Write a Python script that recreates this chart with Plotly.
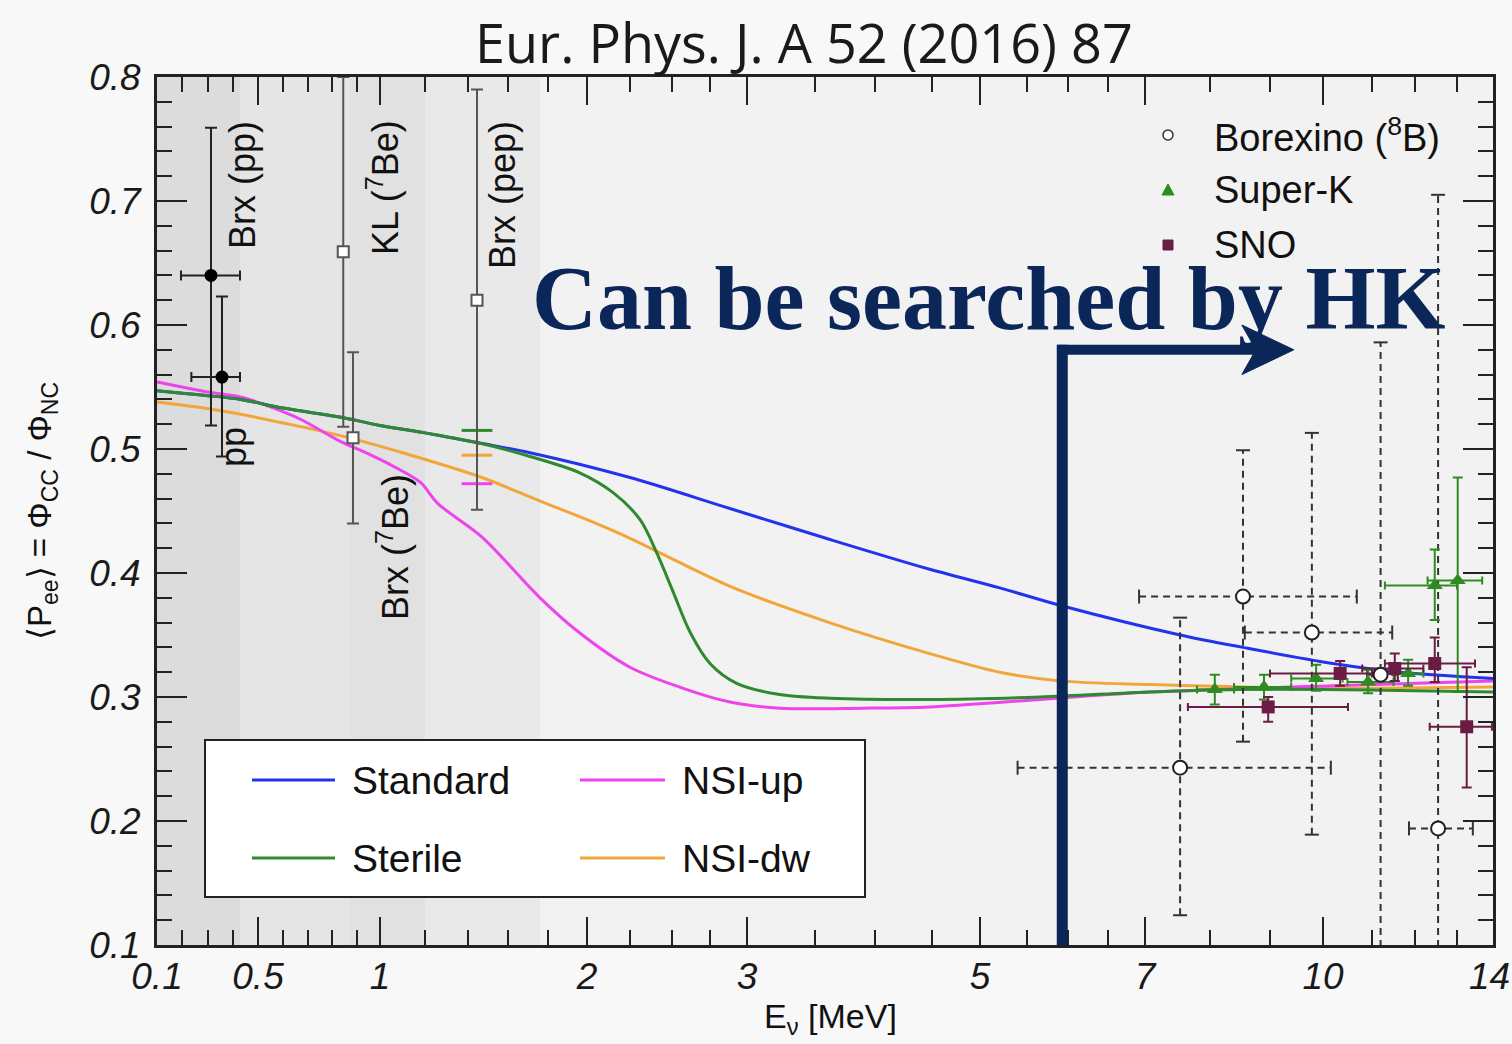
import numpy as np
import plotly.graph_objects as go

# ---------------- energy axis scale (MeV -> axis units)
SCALE_E = [0.1, 0.2, 0.3, 0.4, 0.5, 0.6, 0.7, 0.8, 0.9, 1.0, 1.2, 1.4, 1.6, 1.8, 2.0, 2.25, 2.5, 2.75,
           3.0, 3.5, 4.0, 4.5, 5.0, 5.5, 6.0, 6.5, 7.0, 8.0, 9.0, 10.0, 11.0, 12.0, 13.0, 14.0]
SCALE_U = [0, 25, 51, 76, 101, 126, 151, 175, 200, 223, 268, 311, 351, 391, 430, 473, 515, 553,
           590, 658, 718, 775, 823, 870, 911, 951, 988, 1053, 1113, 1166, 1215, 1258, 1300, 1336]

TICK_E = [0.1, 0.5, 1, 2, 3, 5, 7, 10, 14]
TICK_TEXT = ["0.1", "0.5", "1", "2", "3", "5", "7", "10", "14"]
MINOR_E = [0.2, 0.3, 0.4, 0.6, 0.7, 0.8, 0.9, 1.2, 1.4, 1.6, 1.8, 2.25, 2.5, 2.75,
           3.5, 4, 4.5, 5.5, 6, 6.5, 8, 9, 11, 12, 13]

# ---------------- model curves  (E in MeV, <Pee>)
STD_E = [0.10, 0.20, 0.30, 0.43, 0.60, 0.85, 1.00, 1.20, 1.45, 1.71, 2.25, 2.885, 3.625, 4.48,
         5.21, 5.90, 7.54, 8.55, 10.2, 11.65, 14.0]
STD_P = [0.547, 0.545, 0.543, 0.540, 0.533, 0.525, 0.519, 0.513, 0.505, 0.497, 0.477, 0.452, 0.427,
         0.403, 0.388, 0.374, 0.350, 0.340, 0.327, 0.320, 0.315]

STE_E = [0.10, 0.20, 0.30, 0.43, 0.60, 0.85, 1.00, 1.20, 1.45, 1.71, 1.96, 2.15, 2.31, 2.41, 2.51,
         2.62, 2.75, 2.93, 3.24, 3.625, 4.48, 5.66, 7.08, 8.5, 10.0, 12.0, 14.0]
STE_P = [0.547, 0.545, 0.543, 0.540, 0.533, 0.525, 0.519, 0.513, 0.505, 0.494, 0.481, 0.465, 0.443,
         0.416, 0.384, 0.352, 0.327, 0.311, 0.302, 0.299, 0.298, 0.300, 0.304, 0.306, 0.306, 0.305, 0.304]

UP_E = [0.10, 0.20, 0.30, 0.43, 0.55, 0.67, 0.825, 0.95, 1.07, 1.18, 1.26, 1.47, 1.76, 1.96, 2.25,
        2.55, 2.885, 3.24, 3.9, 4.48, 5.66, 7.08, 10.2, 14.0]
UP_P = [0.554, 0.550, 0.546, 0.542, 0.534, 0.524, 0.507, 0.496, 0.485, 0.473, 0.456, 0.429, 0.380,
        0.352, 0.324, 0.308, 0.296, 0.291, 0.291, 0.292, 0.298, 0.304, 0.309, 0.313]

DW_E = [0.10, 0.25, 0.43, 0.60, 0.85, 1.10, 1.47, 1.76, 2.00, 2.25, 2.89, 3.62, 4.48, 5.21, 5.90,
        7.08, 10.0, 14.0]
DW_P = [0.538, 0.534, 0.528, 0.521, 0.510, 0.497, 0.477, 0.458, 0.443, 0.428, 0.389, 0.360, 0.335,
        0.320, 0.313, 0.310, 0.307, 0.308]

# ---------------- measurements
PP_E = [0.312, 0.356]
PP_E_LO = [0.196, 0.236]
PP_E_HI = [0.428, 0.428]
PP_P = [0.640, 0.558]
PP_P_LO = [0.519, 0.494]
PP_P_HI = [0.759, 0.623]

SQ_E = [0.845, 0.884, 1.445]          # KL(7Be), Brx(7Be), Brx(pep)
SQ_P = [0.659, 0.509, 0.620]
SQ_P_LO = [0.518, 0.440, 0.451]
SQ_P_HI = [0.800, 0.578, 0.790]

PEP_PRED_E = 1.445
PEP_PRED_P = [0.515, 0.495, 0.472]     # Sterile, NSI-dw, NSI-up

B8_E = [7.54, 8.55, 9.79, 11.2, 12.55]
B8_E_LO = [5.40, 6.92, 8.58, 10.9, 11.86]
B8_E_HI = [10.16, 10.69, 11.47, 11.6, 13.44]
B8_P = [0.243, 0.381, 0.352, 0.318, 0.194]
B8_P_LO = [0.124, 0.264, 0.189, 0.05, 0.05]
B8_P_HI = [0.364, 0.499, 0.513, 0.586, 0.705]

SK_E = [8.08, 8.90, 9.87, 10.92, 11.84, 12.47, 13.02]
SK_E_LO = [7.8, 8.4, 9.4, 10.5, 11.5, 11.3, 12.3]
SK_E_HI = [8.4, 9.4, 10.4, 11.5, 12.2, 13.0, 13.7]
SK_P = [0.306, 0.308, 0.315, 0.312, 0.319, 0.390, 0.394]
SK_P_LO = [0.294, 0.298, 0.305, 0.303, 0.309, 0.362, 0.304]
SK_P_HI = [0.318, 0.318, 0.326, 0.322, 0.330, 0.419, 0.477]

SNO_E = [8.97, 10.35, 11.53, 12.47, 13.27]
SNO_E_LO = [7.66, 9.0, 10.8, 11.3, 12.35]
SNO_E_HI = [10.51, 11.0, 12.2, 13.5, 13.97]
SNO_P = [0.292, 0.319, 0.323, 0.327, 0.276]
SNO_P_LO = [0.280, 0.309, 0.313, 0.312, 0.227]
SNO_P_HI = [0.300, 0.329, 0.335, 0.348, 0.324]

BANDS_E = [(0.1, 0.43), (0.43, 0.866), (0.866, 1.2), (1.2, 1.76)]
BAND_COLORS = ["#dcdcdc", "#e5e5e5", "#e1e1e1", "#e9e9e9"]

ARROW_E, ARROW_P, ARROW_TIP_E = 5.93, 0.58, 9.45

# ---------------- helpers
def u(e):
    return np.interp(np.asarray(e, dtype=float), SCALE_E, SCALE_U)

L, T, W, H = 157, 77, 1336, 868
FIG_W, FIG_H = 1512, 1044


def pp(x, y):
    """reference-pixel position -> paper coords (layout elements only)"""
    return (x - L) / W, (T + H - y) / H


SANS = "Liberation Sans, Arial, Helvetica, sans-serif"
SERIF = "Liberation Serif, Times New Roman, serif"
C_STD, C_STE, C_UP, C_DW = "#2233ee", "#2f8a2f", "#ee44ee", "#f2a63a"
C_SK, C_SNO = "#2e8b22", "#6a1c45"
NAVY = "#0b2659"

fig = go.Figure()

# curves
for e, p, c in [(DW_E, DW_P, C_DW), (UP_E, UP_P, C_UP), (STD_E, STD_P, C_STD), (STE_E, STE_P, C_STE)]:
    fig.add_trace(go.Scatter(x=u(e), y=p, mode="lines",
                             line=dict(color=c, width=3, shape="spline", smoothing=0.9),
                             hoverinfo="skip", showlegend=False))

# pep predictions
fig.add_trace(go.Scatter(x=u([PEP_PRED_E] * 3), y=PEP_PRED_P, mode="markers",
                         marker=dict(symbol="line-ew", size=22,
                                     line=dict(color=[C_STE, C_DW, C_UP], width=3)),
                         showlegend=False, hoverinfo="skip"))

# pp (filled circles)
ppx = u(PP_E)
fig.add_trace(go.Scatter(
    x=ppx, y=PP_P, mode="markers",
    marker=dict(symbol="circle", size=13, color="black"),
    error_x=dict(type="data", symmetric=False, array=u(PP_E_HI) - ppx, arrayminus=ppx - u(PP_E_LO),
                 color="#222", thickness=2, width=5),
    error_y=dict(type="data", symmetric=False, array=np.array(PP_P_HI) - PP_P,
                 arrayminus=np.array(PP_P) - PP_P_LO, color="#222", thickness=2, width=6),
    showlegend=False, hoverinfo="skip"))

# 7Be / pep (open squares)
fig.add_trace(go.Scatter(
    x=u(SQ_E), y=SQ_P, mode="markers",
    marker=dict(symbol="square", size=11, color="white", line=dict(color="#555", width=2)),
    error_y=dict(type="data", symmetric=False, array=np.array(SQ_P_HI) - SQ_P,
                 arrayminus=np.array(SQ_P) - SQ_P_LO, color="#555", thickness=2, width=6),
    showlegend=False, hoverinfo="skip"))

# Borexino 8B dashed error bars
bx, by = [], []
for e, lo, hi, p, plo, phi in zip(B8_E, B8_E_LO, B8_E_HI, B8_P, B8_P_LO, B8_P_HI):
    bx += [u(e), u(e), None, u(lo), u(hi), None]
    by += [plo, phi, None, p, p, None]
fig.add_trace(go.Scatter(x=bx, y=by, mode="lines", line=dict(color="#333", width=2, dash="7px,5px"),
                         showlegend=False, hoverinfo="skip"))
fig.add_trace(go.Scatter(x=list(u(B8_E)) * 2, y=B8_P_LO + B8_P_HI, mode="markers",
                         marker=dict(symbol="line-ew", size=10, line=dict(color="#333", width=2)),
                         showlegend=False, hoverinfo="skip"))
fig.add_trace(go.Scatter(x=list(u(B8_E_LO)) + list(u(B8_E_HI)), y=B8_P + B8_P, mode="markers",
                         marker=dict(symbol="line-ns", size=10, line=dict(color="#333", width=2)),
                         showlegend=False, hoverinfo="skip"))


def solid_errors(E, ELO, EHI, P, PLO, PHI, color, symbol, size):
    x = u(E)
    fig.add_trace(go.Scatter(
        x=x, y=P, mode="markers",
        marker=dict(symbol=symbol, size=size, color=color),
        error_x=dict(type="data", symmetric=False, array=u(EHI) - x, arrayminus=x - u(ELO),
                     color=color, thickness=2, width=4),
        error_y=dict(type="data", symmetric=False, array=np.array(PHI) - P,
                     arrayminus=np.array(P) - PLO, color=color, thickness=2, width=5),
        showlegend=False, hoverinfo="skip"))


solid_errors(SK_E, SK_E_LO, SK_E_HI, SK_P, SK_P_LO, SK_P_HI, C_SK, "triangle-up", 14)
solid_errors(SNO_E, SNO_E_LO, SNO_E_HI, SNO_P, SNO_P_LO, SNO_P_HI, C_SNO, "square", 13)

fig.add_trace(go.Scatter(x=u(B8_E), y=B8_P, mode="markers",
                         marker=dict(symbol="circle", size=14, color="white", line=dict(color="#222", width=2)),
                         showlegend=False, hoverinfo="skip"))

shapes = []
# shaded bands
for (e0, e1), c in zip(BANDS_E, BAND_COLORS):
    shapes.append(dict(type="rect", xref="x", yref="y", x0=float(u(e0)), x1=float(u(e1)), y0=0.1, y1=0.8,
                       fillcolor=c, line=dict(width=0), layer="below"))

# arrow (data coordinates)
ax = float(u(ARROW_E))
tip = float(u(ARROW_TIP_E))
shapes.append(dict(type="line", xref="x", yref="y", x0=ax, x1=ax, y0=0.1, y1=ARROW_P + 0.004,
                   line=dict(color=NAVY, width=11)))
shapes.append(dict(type="line", xref="x", yref="y", x0=ax - 5, x1=tip - 30, y0=ARROW_P, y1=ARROW_P,
                   line=dict(color=NAVY, width=10)))
shapes.append(dict(type="path", xref="x", yref="y",
                   path=f"M {tip},{ARROW_P} L {tip-52},{ARROW_P+0.020} L {tip-38},{ARROW_P} "
                        f"L {tip-52},{ARROW_P-0.020} Z",
                   fillcolor=NAVY, line=dict(color=NAVY, width=1)))

# lower-left legend box
x0, y0 = pp(205, 897)
x1, y1 = pp(865, 740)
shapes.append(dict(type="rect", xref="paper", yref="paper", x0=x0, x1=x1, y0=y0, y1=y1,
                   fillcolor="white", line=dict(color="#222", width=2)))
annotations = []
for (lx0, lx1, ly, col, label, tx) in [(252, 335, 780, C_STD, "Standard", 350),
                                        (580, 665, 780, C_UP, "NSI-up", 680),
                                        (252, 335, 858, C_STE, "Sterile", 350),
                                        (580, 665, 858, C_DW, "NSI-dw", 680)]:
    a0, b0 = pp(lx0, ly)
    a1, _ = pp(lx1, ly)
    shapes.append(dict(type="line", xref="paper", yref="paper", x0=a0, x1=a1, y0=b0, y1=b0,
                       line=dict(color=col, width=3)))
    tx_, ty_ = pp(tx, ly)
    annotations.append(dict(x=tx_, y=ty_, xref="paper", yref="paper", text=label, showarrow=False,
                            xanchor="left", yanchor="middle", font=dict(family=SANS, size=39, color="#111")))

# upper-right legend
leg_rows = [(135, "Borexino (<sup>8</sup>B)"), (190, "Super-K"), (245, "SNO")]
for yy, label in leg_rows:
    tx_, ty_ = pp(1212, yy)
    annotations.append(dict(x=tx_, y=ty_, xref="paper", yref="paper", text=label, showarrow=False,
                            xanchor="left", yanchor="middle", font=dict(family=SANS, size=38, color="#111")))
mx, my = pp(1168, 135)
shapes.append(dict(type="circle", xref="paper", yref="paper", xsizemode="pixel", ysizemode="pixel",
                   xanchor=mx, yanchor=my, x0=-5, x1=5, y0=-5, y1=5,
                   fillcolor="white", line=dict(color="#333", width=1.5)))
mx, my = pp(1168, 190)
shapes.append(dict(type="path", xref="paper", yref="paper", xsizemode="pixel", ysizemode="pixel",
                   xanchor=mx, yanchor=my, path="M -6,-5 L 6,-5 L 0,6 Z",
                   fillcolor=C_SK, line=dict(color=C_SK, width=1)))
mx, my = pp(1168, 245)
shapes.append(dict(type="rect", xref="paper", yref="paper", xsizemode="pixel", ysizemode="pixel",
                   xanchor=mx, yanchor=my, x0=-5, x1=5, y0=-5, y1=5,
                   fillcolor=C_SNO, line=dict(color=C_SNO, width=1)))

# rotated in-plot labels
for (xx, yy, label) in [(242, 185, "Brx (pp)"), (233, 447, "pp"),
                        (383, 188, "KL (<sup>7</sup>Be)"), (393, 547, "Brx (<sup>7</sup>Be)"),
                        (502, 195, "Brx (pep)")]:
    ax_, ay_ = pp(xx, yy)
    annotations.append(dict(x=ax_, y=ay_, xref="paper", yref="paper", text=label, textangle=-90,
                            showarrow=False, xanchor="center", yanchor="middle",
                            font=dict(family=SANS, size=36, color="#111")))

tickfont = dict(family=SANS, size=37, color="#1a1a1a", style="italic")

# last energy tick label sits at the page edge (it is clipped there in the reference)
ex_, ey_ = pp(FIG_W, 976)
annotations.append(dict(x=ex_, y=ey_, xref="paper", yref="paper", text=TICK_TEXT[-1], showarrow=False,
                        xanchor="right", yanchor="middle", font=tickfont))

# title / axis titles / HK text
tx_, ty_ = pp(804, 42)
annotations.append(dict(x=tx_, y=ty_, xref="paper", yref="paper", text="Eur. Phys. J. A 52 (2016) 87",
                        showarrow=False, xanchor="center", yanchor="middle",
                        font=dict(family="Open Sans, DejaVu Sans, sans-serif", size=54, color="#1a1a1a")))
tx_, ty_ = pp(830, 1018)
annotations.append(dict(x=tx_, y=ty_, xref="paper", yref="paper", text="E<sub>ν</sub> [MeV]",
                        showarrow=False, xanchor="center", yanchor="middle",
                        font=dict(family=SANS, size=34, color="#111")))
tx_, ty_ = pp(42, 511)
annotations.append(dict(x=tx_, y=ty_, xref="paper", yref="paper",
                        text="⟨P<sub>ee</sub>⟩ = Φ<sub>CC</sub> / Φ<sub>NC</sub>", textangle=-90,
                        showarrow=False, xanchor="center", yanchor="middle",
                        font=dict(family=SANS, size=33, color="#111")))
tx_, ty_ = pp(988, 299)
annotations.append(dict(x=tx_, y=ty_, xref="paper", yref="paper", text="<b>Can be searched by HK</b>",
                        showarrow=False, xanchor="center", yanchor="middle",
                        font=dict(family=SERIF, size=90, color=NAVY)))

fig.update_layout(
    width=FIG_W, height=FIG_H, autosize=False,
    margin=dict(l=L, r=FIG_W - L - W, t=T, b=FIG_H - T - H, pad=0),
    paper_bgcolor="#f8f8f8", plot_bgcolor="#f2f2f2",
    shapes=shapes, annotations=annotations, showlegend=False,
    xaxis=dict(range=[0, SCALE_U[-1]], tickmode="array", tickvals=u(TICK_E[:-1]), ticktext=TICK_TEXT[:-1],
               ticks="inside", ticklen=28, tickwidth=2, tickcolor="#222",
               minor=dict(tickmode="array", tickvals=list(u(MINOR_E)) + [float(u(TICK_E[-1]))],
                          ticks="inside", ticklen=15, tickwidth=2, tickcolor="#222"),
               showline=True, linecolor="#222", linewidth=3, mirror="ticks", showgrid=False,
               zeroline=False, tickfont=tickfont, ticklabelstandoff=-3),
    yaxis=dict(range=[0.1, 0.8], tickmode="linear", tick0=0.1, dtick=0.1,
               ticks="inside", ticklen=30, tickwidth=2, tickcolor="#222",
               minor=dict(dtick=0.02, tick0=0.1, ticks="inside", ticklen=15, tickwidth=2, tickcolor="#222"),
               showline=True, linecolor="#222", linewidth=3, mirror="ticks", showgrid=False,
               zeroline=False, tickfont=tickfont, ticklabelstandoff=6),
)

fig.write_html(
    "out.html",
    config={"displayModeBar": False, "responsive": False},
    default_width=f"{FIG_W}px", default_height=f"{FIG_H}px",
    post_script=("document.body.style.margin='0px';document.body.style.overflow='hidden';"
                 "document.documentElement.style.overflow='hidden';"),
)
